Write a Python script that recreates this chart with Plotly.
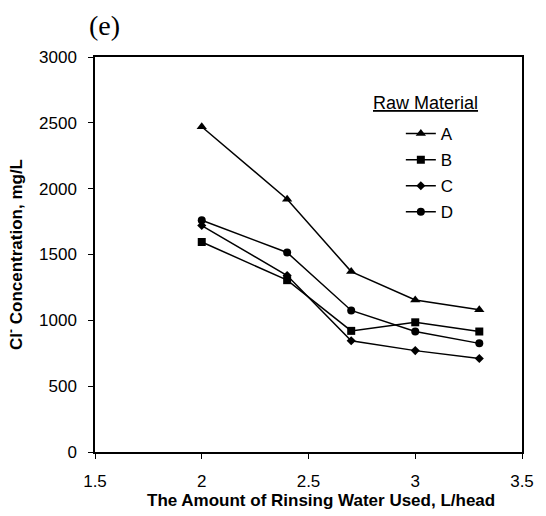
import plotly.graph_objects as go

x_vals = [2.0, 2.4, 2.7, 3.0, 3.3]
series_names = ["A", "B", "C", "D"]
A = [2470, 1920, 1370, 1155, 1080]
B = [1595, 1305, 920, 985, 915]
C = [1720, 1340, 845, 770, 710]
D = [1760, 1515, 1075, 915, 825]
series_values = [A, B, C, D]
symbols = ["triangle-up", "square", "diamond", "circle"]
sizes = [9, 8, 7, 8]

x_ticks = [1.5, 2, 2.5, 3, 3.5]
x_tick_text = ["1.5", "2", "2.5", "3", "3.5"]
y_ticks = [0, 500, 1000, 1500, 2000, 2500, 3000]

FONT = "Arial, Liberation Sans"

fig = go.Figure()
for name, vals, sym, sz in zip(series_names, series_values, symbols, sizes):
    fig.add_trace(go.Scatter(
        x=x_vals, y=vals, name=name, mode="lines+markers",
        line=dict(color="black", width=1.5),
        marker=dict(symbol=sym, size=sz, color="black"),
        legendgroup=name,
    ))

axis_common = dict(
    showline=True, linecolor="black", linewidth=1.5, mirror=True,
    ticks="outside", ticklen=5, tickcolor="black", tickwidth=1,
    showgrid=False, zeroline=False,
    tickfont=dict(family=FONT, size=17, color="black"),
)

fig.update_layout(
    width=546, height=516,
    margin=dict(l=95, r=14, t=57, b=64),
    plot_bgcolor="white", paper_bgcolor="white",
    xaxis=dict(range=[1.5, 3.5], tickvals=x_ticks, ticktext=x_tick_text,
               ticklabelstandoff=8, **axis_common),
    yaxis=dict(range=[0, 3000], tickvals=y_ticks, ticklabelstandoff=8,
               title=dict(text="<b>Cl<sup>-</sup> Concentration, mg/L</b>",
                          font=dict(family=FONT, size=17, color="black"), standoff=12),
               **axis_common),
    showlegend=True,
    legend=dict(x=(408 - 95) / 437, y=(452 - 116) / 395, xanchor="left", yanchor="top",
                bgcolor="rgba(0,0,0,0)", tracegroupgap=1,
                font=dict(family=FONT, size=17, color="black"),
                itemwidth=30),
    annotations=[
        dict(text="<u>Raw Material</u>", x=(377 - 95) / 437, y=(452 - 103) / 395,
             xref="paper", yref="paper", xanchor="left", yanchor="middle", showarrow=False,
             font=dict(family=FONT, size=18, color="black")),
        dict(text="(e)", x=(105 - 95) / 437, y=(452 - 25) / 395, xref="paper", yref="paper",
             xanchor="center", yanchor="middle", showarrow=False,
             font=dict(family="Liberation Serif, Times New Roman", size=28, color="black")),
        dict(text="<b>The Amount of Rinsing Water Used, L/head</b>",
             x=(326 - 95) / 437, y=(452 - 500) / 395, xref="paper", yref="paper",
             xanchor="center", yanchor="middle", showarrow=False,
             font=dict(family=FONT, size=17, color="black")),
    ],
)

fig.write_html("out.html")
